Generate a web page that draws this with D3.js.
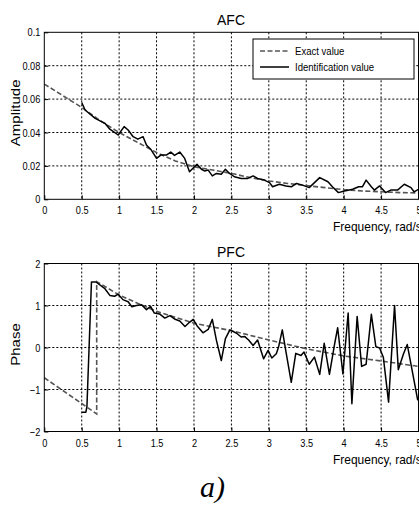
<!DOCTYPE html>
<head>
    <meta charset="utf-8">
    <script src="https://cdn.jsdelivr.net/npm/d3@7"></script>
    <style>
        body { margin: 0; background: #fff; }
        svg text { font-family: "Liberation Sans", Arial, sans-serif; fill: #000; }
    </style>
</head>
<body>
    <div id="chart"></div>
    <script>
        const width = 419, height = 507;

        // données
        const xTicks = [0, 0.5, 1, 1.5, 2, 2.5, 3, 3.5, 4, 4.5, 5];
        const ampTicks = [0, 0.02, 0.04, 0.06, 0.08, 0.1];
        const phaseTicks = [-2, -1, 0, 1, 2];

        const ampExact = [[0, 0.069], [0.25, 0.062], [0.5, 0.055], [0.75, 0.047], [1, 0.040], [1.25, 0.034],
            [1.5, 0.028], [1.75, 0.023], [2, 0.0195], [2.25, 0.0175], [2.5, 0.0155], [2.75, 0.013], [3, 0.011],
            [3.25, 0.0095], [3.5, 0.0082], [3.75, 0.007], [4, 0.0058], [4.25, 0.005], [4.5, 0.0045],
            [4.75, 0.004], [5, 0.0038]];

        const ampIdent = [[0.5, 0.058], [0.545, 0.0535], [0.68, 0.0485], [0.81, 0.0455], [0.876, 0.042],
            [0.987, 0.0385], [1.067, 0.0435], [1.12, 0.0415], [1.187, 0.0375], [1.25, 0.036], [1.32, 0.0375],
            [1.365, 0.0325], [1.43, 0.0295], [1.5, 0.0245], [1.556, 0.0265], [1.63, 0.0265], [1.69, 0.0283],
            [1.74, 0.0263], [1.81, 0.0283], [1.876, 0.0245], [1.94, 0.0165], [2.04, 0.021], [2.1, 0.018],
            [2.14, 0.017], [2.19, 0.0175], [2.245, 0.014], [2.3, 0.0155], [2.365, 0.015], [2.42, 0.018],
            [2.475, 0.0155], [2.54, 0.0135], [2.63, 0.0125], [2.72, 0.0125], [2.79, 0.014], [2.85, 0.0125],
            [2.94, 0.0115], [3.01, 0.010], [3.05, 0.0075], [3.14, 0.009], [3.23, 0.008], [3.3, 0.0075],
            [3.37, 0.0095], [3.45, 0.0085], [3.54, 0.007], [3.68, 0.013], [3.79, 0.0105], [3.85, 0.0075],
            [3.93, 0.004], [4.01, 0.005], [4.12, 0.006], [4.2, 0.0075], [4.25, 0.0075], [4.3, 0.0115],
            [4.37, 0.0075], [4.41, 0.0055], [4.48, 0.008], [4.56, 0.004], [4.63, 0.0055], [4.72, 0.0055],
            [4.81, 0.009], [4.9, 0.007], [4.94, 0.0045], [5, 0.006]];

        const phaseExact = [[0, -0.72], [0.7, -1.58], [0.7, 1.57], [1, 1.25], [1.25, 1.05], [1.5, 0.86],
            [1.75, 0.72], [2, 0.58], [2.5, 0.40], [3, 0.18], [3.5, -0.03], [4, -0.2], [4.5, -0.32], [5, -0.45]];

        const phaseIdent = [[0.5, -1.54], [0.555, -1.54], [0.57, -1.4], [0.63, 1.56], [0.69, 1.56], [0.81, 1.4],
            [0.876, 1.24], [0.94, 1.22], [0.987, 1.27], [1.05, 1.14], [1.12, 1.09], [1.17, 0.97], [1.23, 1.0],
            [1.3, 1.02], [1.365, 0.9], [1.42, 0.98], [1.47, 0.82], [1.54, 0.8], [1.61, 0.7], [1.68, 0.76],
            [1.74, 0.68], [1.81, 0.63], [1.88, 0.5], [1.94, 0.6], [1.99, 0.67], [2.04, 0.52], [2.12, 0.35],
            [2.19, 0.43], [2.245, 0.67], [2.3, 0.17], [2.365, -0.31], [2.42, 0.21], [2.48, 0.42], [2.57, 0.34],
            [2.63, 0.25], [2.68, 0.26], [2.73, 0.18], [2.79, 0.05], [2.85, 0.18], [2.93, -0.27], [2.99, -0.07],
            [3.04, -0.25], [3.1, -0.15], [3.13, 0.01], [3.18, 0.42], [3.23, -0.11], [3.3, -0.83], [3.36, -0.14],
            [3.43, -0.19], [3.47, -0.11], [3.54, -0.4], [3.61, -0.23], [3.68, -0.64], [3.74, 0.1], [3.81, -0.64],
            [3.88, 0.09], [3.92, 0.47], [3.99, -0.63], [4.06, 0.82], [4.11, -1.34], [4.18, 0.74], [4.24, -0.45],
            [4.3, -0.4], [4.37, 0.79], [4.43, 0.02], [4.48, -0.01], [4.53, -0.23], [4.6, -1.3], [4.68, 1.0],
            [4.73, -0.53], [4.8, -0.15], [4.85, 0.07], [4.92, -0.59], [4.99, -1.26]];

        const svg = d3.select('#chart').append('svg')
            .attr('width', width)
            .attr('height', height);

        const x = d3.scaleLinear().domain([0, 5]).range([44.3, 418.5]);

        // texte un peu condensé comme sur la figure
        function label(px, py, txt, size, sx, anchor) {
            return svg.append('text')
                .attr('transform', `translate(${px},${py}) scale(${sx},1)`)
                .attr('text-anchor', anchor || 'start')
                .attr('font-size', size).text(txt);
        }

        function panel(top, bottom, yDomain, yTicks, yFormat, title, ylabel, series) {
            const y = d3.scaleLinear().domain(yDomain).range([bottom, top]);
            const g = svg.append('g');

            // grille en pointillés
            g.selectAll('.vgrid').data(xTicks.slice(1, -1)).enter().append('line')
                .attr('x1', d => x(d)).attr('x2', d => x(d))
                .attr('y1', top).attr('y2', bottom)
                .attr('stroke', '#000').attr('stroke-width', 1).attr('stroke-dasharray', '2,2');
            g.selectAll('.hgrid').data(yTicks.slice(1, -1)).enter().append('line')
                .attr('x1', x(0)).attr('x2', x(5))
                .attr('y1', d => y(d)).attr('y2', d => y(d))
                .attr('stroke', '#000').attr('stroke-width', 1).attr('stroke-dasharray', '2,2');

            // courbes
            const line = d3.line().x(d => x(d[0])).y(d => y(d[1]));
            g.append('path').datum(series[0])
                .attr('d', line).attr('fill', 'none')
                .attr('stroke', '#555').attr('stroke-width', 1.6).attr('stroke-dasharray', '5,2.5');
            g.append('path').datum(series[1])
                .attr('d', line).attr('fill', 'none')
                .attr('stroke', '#000').attr('stroke-width', 1.5).attr('stroke-linejoin', 'round');

            // cadre
            g.append('rect')
                .attr('x', x(0)).attr('y', top)
                .attr('width', x(5) - x(0)).attr('height', bottom - top)
                .attr('fill', 'none').attr('stroke', '#000').attr('stroke-width', 1);

            // axes (ticks vers l'intérieur)
            g.append('g').attr('transform', `translate(0,${bottom})`)
                .call(d3.axisBottom(x).tickValues(xTicks).tickSize(-4).tickPadding(7).tickFormat(d3.format('')))
                .call(a => a.select('.domain').remove())
                .call(a => a.selectAll('text').attr('font-size', 11.5).style('font-family', null)
                    .attr('transform', 'scale(0.8,1)').attr('x', 0));
            g.append('g').attr('transform', `translate(${x(0)},0)`)
                .call(d3.axisLeft(y).tickValues(yTicks).tickSize(-4).tickPadding(4).tickFormat(yFormat))
                .call(a => a.select('.domain').remove())
                .call(a => a.selectAll('text').attr('font-size', 11.5).style('font-family', null)
                    .attr('transform', 'scale(0.8,1)').attr('x', -4 / 0.8));

            label(231, top - 7, title, 14, 1, 'middle');
            label(333, bottom + 32, 'Frequency, rad/s', 13, 0.92);
            svg.append('text')
                .attr('transform', `translate(20,${(top + bottom) / 2 - 3}) scale(0.87,1) rotate(-90)`)
                .attr('text-anchor', 'middle').attr('font-size', 15).text(ylabel);
        }

        panel(32.3, 199.3, [0, 0.1], ampTicks, d => d === 0 ? '0' : String(d), 'AFC', 'Amplitude', [ampExact, ampIdent]);
        panel(263.5, 431.5, [-2, 2], phaseTicks, d3.format(''), 'PFC', 'Phase', [phaseExact, phaseIdent]);

        // légende
        const legend = svg.append('g');
        legend.append('rect').attr('x', 253).attr('y', 39).attr('width', 161).attr('height', 40)
            .attr('fill', '#fff').attr('stroke', '#000').attr('stroke-width', 1);
        const items = [['Exact value', '#555', '5,2.5'], ['Identification value', '#000', null]];
        items.forEach((it, i) => {
            const yy = 51 + i * 16;
            legend.append('line').attr('x1', 260).attr('x2', 289).attr('y1', yy).attr('y2', yy)
                .attr('stroke', it[1]).attr('stroke-width', 1.5).attr('stroke-dasharray', it[2]);
            label(295, yy + 4, it[0], 11, 0.87);
        });

        svg.append('text').attr('x', 200).attr('y', 497)
            .style('font-family', '"Liberation Serif", "Times New Roman", serif')
            .attr('font-style', 'italic').attr('font-size', 30).text('a)');
    </script>
</body>
